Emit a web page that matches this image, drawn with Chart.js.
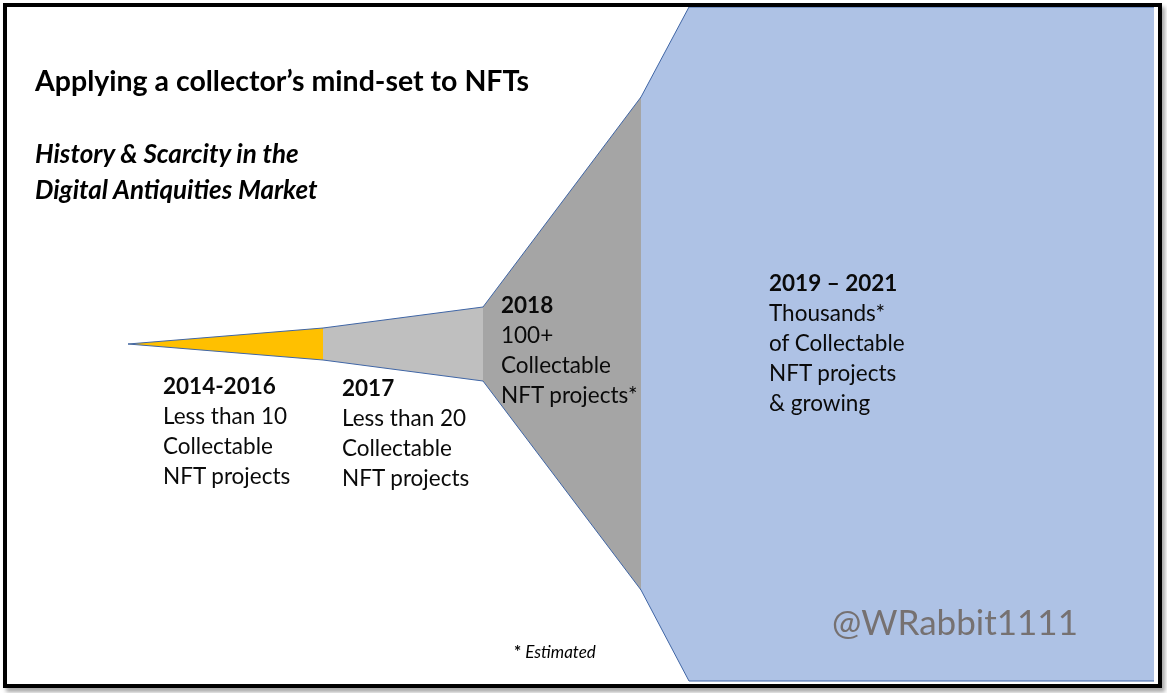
<!DOCTYPE html>
<html>
<head>
<meta charset="utf-8">
<title>Applying a collector's mind-set to NFTs</title>
<script src="https://cdn.jsdelivr.net/npm/chart.js@4"></script>
<style>
    html, body { margin: 0; padding: 0; background: #fff; overflow: hidden; }
    #wrap { position: relative; width: 1167px; height: 693px; font-family: Lato, sans-serif; color: #000; }
    #funnel { position: absolute; left: 0; top: 0; }
    #frame {
        position: absolute; left: 3px; top: 3px; width: 1151px; height: 677px;
        border: 4px solid #000; box-shadow: 3px 4px 4px rgba(0,0,0,0.35); pointer-events: none;
    }
    .label { position: absolute; white-space: nowrap; font-size: 22.5px; line-height: 30px; color: #0a0a0a; }
    .label b { display: block; }
    #title { position: absolute; left: 35px; top: 61px; font-size: 28.5px; line-height: 38px; font-weight: 700; white-space: nowrap; }
    #subtitle { position: absolute; left: 35px; top: 135px; font-size: 26px; line-height: 36px; font-weight: 700; font-style: italic; white-space: nowrap; }
    #note { position: absolute; left: 514px; top: 641px; font-size: 17px; line-height: 22px; font-style: italic; white-space: nowrap; }
    #note b { font-style: normal; }
    #handle { position: absolute; left: 832px; top: 598px; font-size: 35px; line-height: 46px; color: #767171; white-space: nowrap; }
</style>
</head>
<body>
<div id="wrap">
    <canvas id="funnel" width="1167" height="693"></canvas>
    <div id="frame"></div>
    <div id="title"></div>
    <div id="subtitle"></div>
    <div class="label" id="stage0" style="left:163px;top:371px"></div>
    <div class="label" id="stage1" style="left:342px;top:373px"></div>
    <div class="label" id="stage2" style="left:501px;top:290px"></div>
    <div class="label" id="stage3" style="left:769px;top:268px"></div>
    <div id="note"></div>
    <div id="handle"></div>
</div>
<script>
const TITLE = "Applying a collector\u2019s mind-set to NFTs";
const SUBTITLE = ["History & Scarcity in the", "Digital Antiquities Market"];
const STAGE_YEARS = ["2014-2016", "2017", "2018", "2019 \u2013 2021"];
const STAGE_TEXT = [
    ["Less than 10", "Collectable", "NFT projects"],
    ["Less than 20", "Collectable", "NFT projects"],
    ["100+", "Collectable", "NFT projects*"],
    ["Thousands*", "of Collectable", "NFT projects", "& growing"]
];

// funnel outline
const EDGE_X = [128, 323, 483, 641, 689, 1154];
const UPPER = [344, 328, 307, 97, 7, 7];
const LOWER = [344, 360, 381, 590, 681, 681];
const MARK_X = 842;
const MARK_TOP = [7, 12];
const MARK_BOTTOM = [675, 681];

const COLORS = ["#FFC000", "#BFBFBF", "#A5A5A5", "#AEC2E5"];
const LINE_COLOR = "#3F65A5";

function edge(xs, ys) {
    return xs.map((x, i) => ({ x: x, y: ys[i] }));
}

function buildDatasets() {
    const datasets = [];
    // one upper + lower pair per stage, the blue one runs to the frame
    const stages = [[0, 2], [1, 3], [2, 4], [3, 6]];
    stages.forEach(([from, to], i) => {
        const xs = EDGE_X.slice(from, to);
        datasets.push({
            data: edge(xs, UPPER.slice(from, to)),
            borderColor: LINE_COLOR, borderWidth: 1, pointRadius: 0, fill: false
        });
        datasets.push({
            data: edge(xs, LOWER.slice(from, to)),
            borderColor: LINE_COLOR, borderWidth: 1, pointRadius: 0,
            backgroundColor: COLORS[i], fill: "-1"
        });
    });
    // closing verticals between the stages
    [1, 2, 3].forEach(i => {
        datasets.push({
            data: edge([EDGE_X[i], EDGE_X[i]], [UPPER[i], LOWER[i]]),
            borderColor: LINE_COLOR, borderWidth: 1, pointRadius: 0, fill: false
        });
    });
    // small marks at top and bottom of the blue area
    [MARK_TOP, MARK_BOTTOM].forEach(ys => {
        datasets.push({
            data: edge([MARK_X, MARK_X], ys),
            borderColor: LINE_COLOR, borderWidth: 1, pointRadius: 0, fill: false
        });
    });
    return datasets;
}

new Chart(document.getElementById('funnel').getContext('2d'), {
    type: 'line',
    data: { datasets: buildDatasets() },
    options: {
        responsive: false,
        animation: false,
        layout: { padding: 0 },
        plugins: { legend: { display: false }, tooltip: { enabled: false }, title: { display: false } },
        scales: {
            x: { type: 'linear', min: 0, max: 1167, display: false },
            y: { type: 'linear', min: 0, max: 693, reverse: true, display: false }
        }
    }
});

function fillLabels() {
    document.getElementById('title').textContent = TITLE;
    document.getElementById('subtitle').innerHTML = SUBTITLE.join('<br>').replace(/&(?!\w+;)/g, '&amp;');
    STAGE_YEARS.forEach((year, i) => {
        const el = document.getElementById('stage' + i);
        const head = document.createElement('b');
        head.textContent = year;
        el.appendChild(head);
        STAGE_TEXT[i].forEach(line => {
            const div = document.createElement('div');
            div.textContent = line;
            el.appendChild(div);
        });
    });
    document.getElementById('note').innerHTML = '<b>*</b> Estimated';
    document.getElementById('handle').textContent = '@WRabbit1111';
}
fillLabels();
</script>
</body>
</html>
